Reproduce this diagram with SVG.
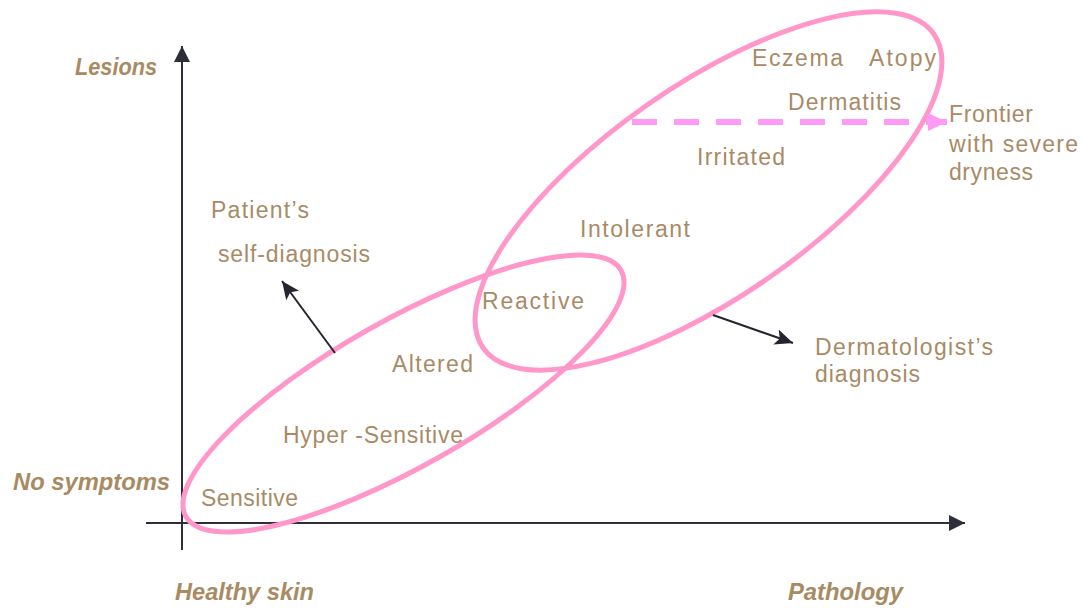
<svg xmlns="http://www.w3.org/2000/svg" width="1083" height="608" viewBox="0 0 1083 608">
  <style>
    .lbl { font-family: "Liberation Sans", Arial, sans-serif; font-size: 23px; fill: #A88B66; }
    .ax { font-family: "Liberation Sans", Arial, sans-serif; font-size: 23px; font-weight: bold; font-style: italic; fill: #A88B62; }
    .ell { fill: none; stroke: #FF97CB; stroke-width: 5; }
    .axis { fill: none; stroke: #2E2E3A; stroke-width: 2; }
    .call { fill: none; stroke: #25252F; stroke-width: 2; }
  </style>
  <defs>
    <marker id="axhead" markerUnits="userSpaceOnUse" markerWidth="18" markerHeight="16" refX="16" refY="8" orient="auto">
      <path d="M0,0 L16,8 L0,16 Z" fill="#2E2E3A"/>
    </marker>
    <marker id="callhead" markerUnits="userSpaceOnUse" markerWidth="20" markerHeight="16" refX="18" refY="8" orient="auto">
      <path d="M0,0 L18,8 L0,16 L4,8 Z" fill="#25252F"/>
    </marker>
    <marker id="pinkhead" markerUnits="userSpaceOnUse" markerWidth="20" markerHeight="18" refX="19" refY="9" orient="auto">
      <path d="M0,0 L19,9 L0,18 Z" fill="#FF9BF5"/>
    </marker>
  </defs>

  <g id="axes">
    <line class="axis" x1="182" y1="550" x2="182" y2="46" marker-end="url(#axhead)"/>
    <line class="axis" x1="146" y1="523" x2="965" y2="523" marker-end="url(#axhead)"/>
  </g>

  <g id="patient-ellipse">
    <ellipse class="ell" cx="403.5" cy="393.5" rx="250" ry="73" transform="rotate(-29.5 403.5 393.5)"/>
  </g>
  <g id="dermatologist-ellipse">
    <ellipse class="ell" cx="708.5" cy="191" rx="274.6" ry="105.7" transform="rotate(-34.8 708.5 191)"/>
  </g>

  <g id="connectors">
    <line x1="632" y1="122" x2="947" y2="122" stroke="#FF9BF5" stroke-width="6" stroke-dasharray="25 17" marker-end="url(#pinkhead)"/>
    <line class="call" x1="335" y1="353" x2="282" y2="281" marker-end="url(#callhead)"/>
    <line class="call" x1="713" y1="315" x2="793" y2="343" marker-end="url(#callhead)"/>
  </g>

  <g id="axis-labels">
    <text class="ax" x="75" y="75" textLength="82" lengthAdjust="spacingAndGlyphs">Lesions</text>
    <text class="ax" x="13" y="490" textLength="157" lengthAdjust="spacingAndGlyphs">No symptoms</text>
    <text class="ax" x="175" y="600" textLength="139" lengthAdjust="spacingAndGlyphs">Healthy skin</text>
    <text class="ax" x="788" y="600" textLength="115" lengthAdjust="spacingAndGlyphs">Pathology</text>
  </g>

  <g id="node-sensitive"><text class="lbl" x="201" y="506" textLength="97">Sensitive</text></g>
  <g id="node-hypersensitive"><text class="lbl" x="283" y="443" textLength="180">Hyper -Sensitive</text></g>
  <g id="node-altered"><text class="lbl" x="392" y="372" textLength="81">Altered</text></g>
  <g id="node-reactive"><text class="lbl" x="482" y="309" textLength="102">Reactive</text></g>
  <g id="node-intolerant"><text class="lbl" x="580" y="237" textLength="110">Intolerant</text></g>
  <g id="node-irritated"><text class="lbl" x="697" y="165" textLength="88">Irritated</text></g>
  <g id="node-dermatitis"><text class="lbl" x="788" y="110" textLength="113">Dermatitis</text></g>
  <g id="node-eczema"><text class="lbl" x="752" y="66" textLength="91">Eczema</text></g>
  <g id="node-atopy"><text class="lbl" x="869" y="66" textLength="67">Atopy</text></g>
  <g id="node-frontier">
    <text class="lbl" x="949" y="122" textLength="84">Frontier</text>
    <text class="lbl" x="949" y="152" textLength="129">with severe</text>
    <text class="lbl" x="949" y="180" textLength="84">dryness</text>
  </g>
  <g id="node-patient">
    <text class="lbl" x="211" y="218" textLength="98">Patient’s</text>
    <text class="lbl" x="218" y="262" textLength="152">self-diagnosis</text>
  </g>
  <g id="node-dermatologist">
    <text class="lbl" x="815" y="355" textLength="178">Dermatologist’s</text>
    <text class="lbl" x="815" y="382" textLength="105">diagnosis</text>
  </g>
</svg>
